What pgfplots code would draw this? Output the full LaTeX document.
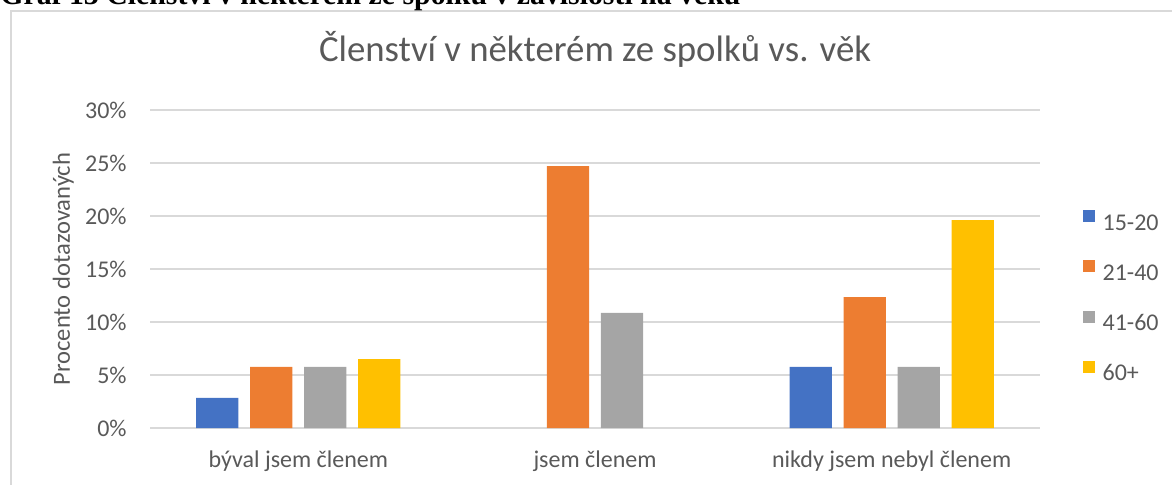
\documentclass[border=0pt]{standalone}
\usepackage{pgfplots}
\pgfplotsset{compat=1.18}
\usepackage{fontspec}
\setmainfont{Carlito}
\newfontfamily\capfont{Liberation Serif}
\definecolor{cblue}{HTML}{4472C4}
\definecolor{corange}{HTML}{ED7D31}
\definecolor{cgray}{HTML}{A5A5A5}
\definecolor{cyellow}{HTML}{FFC000}
\definecolor{txt}{HTML}{595959}
\definecolor{cgrid}{HTML}{D9D9D9}
\begin{document}
\begin{tikzpicture}
\useasboundingbox (0,0) rectangle (586pt,242pt);
\draw[cgrid, line width=1pt] (5.5pt,-10pt) -- (5.5pt,236.5pt) -- (600pt,236.5pt);
\node[anchor=base west, inner sep=0pt, font=\capfont\bfseries\fontsize{14.9}{16}\selectfont] at (0pt,239.75pt) {Graf 13 Členství v některém ze spolku v závislosti na věku};
\begin{axis}[
  at={(75pt,28pt)}, anchor=south west,
  scale only axis, width=445pt, height=159pt,
  xmin=-0.5, xmax=2.5, ymin=0, ymax=30,
  xtick={0,1,2},
  xticklabels={býval jsem členem, jsem členem, nikdy jsem nebyl členem},
  ytick={0,5,10,15,20,25,30},
  yticklabel={\pgfmathprintnumber{\tick}\%},
  /pgf/number format/assume math mode=true,
  axis line style={draw=none},
  major tick length=0pt,
  xmajorgrids=false, ymajorgrids=true,
  grid style={draw=cgrid, line width=0.8pt},
  tick label style={text=txt, font=\fontsize{12}{14}\selectfont},
  yticklabel style={anchor=east, inner sep=0pt, xshift=-11.5pt},
  xticklabel style={anchor=base, inner sep=0pt, yshift=-19.5pt},
  ylabel={Procento dotazovaných},
  ylabel style={at={(axis description cs:-0.0899,0.5)}, anchor=base, inner sep=0pt, text=txt, font=\fontsize{12.3}{14}\selectfont},
  title={Členství v některém ze spolků vs. věk},
  title style={at={(axis description cs:0.5,1.1437)}, anchor=base, yshift=-4.5pt, inner sep=0pt, text=txt, font=\fontsize{18.4}{20}\selectfont},
  ybar=5.85pt, bar width=21.15pt,
  legend image code/.code={\fill[#1] (0pt,0.5pt) rectangle (6pt,6.5pt);},
  legend style={at={(axis description cs:1.0479,0.685)}, anchor=north west,
    draw=none, fill=none, inner sep=0pt, outer sep=0pt, row sep=15.1pt,
    font=\fontsize{12}{14}\selectfont, text=txt,
    nodes={inner sep=0pt, text height=7pt, text depth=0pt},
    /tikz/every odd column/.append style={column sep=4pt}},
  legend cell align=left,
]
\addplot[fill=cblue, draw=none] coordinates {(0,2.85) (2,5.77)};
\addplot[fill=corange, draw=none] coordinates {(0,5.77) (1,24.7) (2,12.35)};
\addplot[fill=cgray, draw=none] coordinates {(0,5.77) (1,10.85) (2,5.77)};
\addplot[fill=cyellow, draw=none] coordinates {(0,6.5) (2,19.6)};
\legend{15-20, 21-40, 41-60, 60+}
\end{axis}
\end{tikzpicture}
\end{document}
